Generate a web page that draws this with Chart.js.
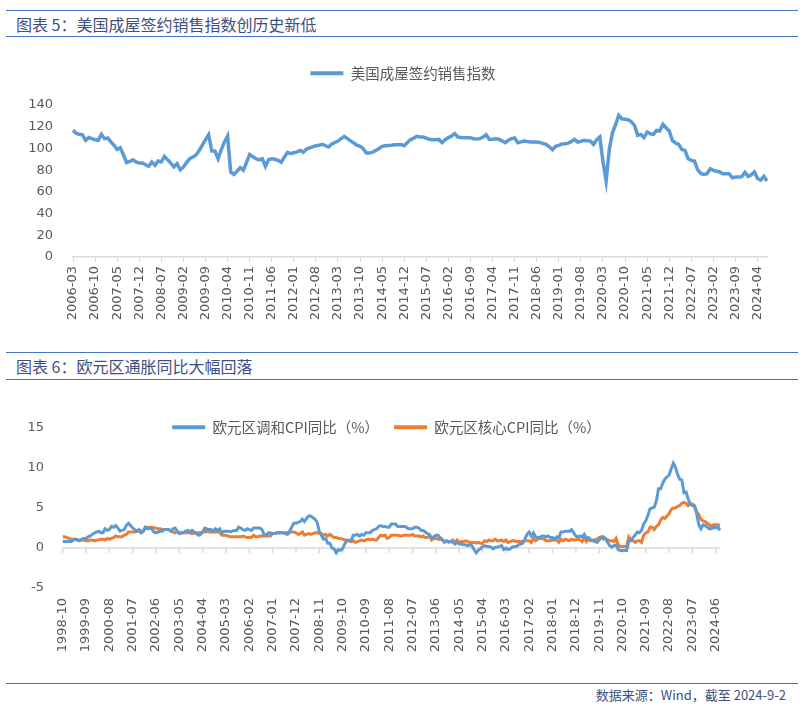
<!DOCTYPE html>
<html>
<head>
<meta charset="utf-8">
<script src="https://cdn.jsdelivr.net/npm/chart.js@4.4.1/dist/chart.umd.min.js"></script>
<style>
  body { margin: 0; background: #fff; }
  #page { position: relative; width: 806px; height: 712px; overflow: hidden; font-family: "Noto Sans CJK SC", sans-serif; }
  .rule { position: absolute; left: 6px; width: 792px; border-top: 1.5px solid #4472c4; }
  .title { position: absolute; left: 16px; font-size: 16px; line-height: 20px; color: #3f4f7f; white-space: nowrap; }
  .note { position: absolute; right: 20px; font-size: 13px; line-height: 16px; color: #3f4f7f; white-space: nowrap; }
  canvas { position: absolute; left: 0; }
</style>
</head>
<body>
<div id="page">
  <div class="rule" style="top:10px"></div>
  <div class="title" style="top:14px">图表 5：美国成屋签约销售指数创历史新低</div>
  <div class="rule" style="top:36px"></div>
  <canvas id="pending" width="806" height="300" style="top:40px"></canvas>

  <div class="rule" style="top:352px"></div>
  <div class="title" style="top:356px">图表 6：欧元区通胀同比大幅回落</div>
  <div class="rule" style="top:379px"></div>
  <canvas id="euro" width="806" height="295" style="top:385px"></canvas>

  <div class="rule" style="top:683px"></div>
  <div class="note" style="top:687px">数据来源：Wind，截至 2024-9-2</div>
</div>
<script>
// month labels like 2006-03
function monthLabels(year, month, count) {
  const out = [];
  for (let i = 0; i < count; i++) {
    const y = year + Math.floor((month - 1 + i) / 12);
    const m = ((month - 1 + i) % 12) + 1;
    out.push(y + "-" + String(m).padStart(2, "0"));
  }
  return out;
}

const pendingName = "美国成屋签约销售指数";
const pendingMonths = monthLabels(2006, 3, 221);
const pendingIndex = [
  116.6, 114, 113, 112.5, 107.5, 110, 109, 108, 107.5, 113,
  109, 109.6, 106, 103, 99, 100.7, 94, 87, 88, 89.6, 87.5, 86.6,
  86.6, 85, 83.5, 87.5, 84.4, 88.4, 87.5, 92.7, 89.5, 86.5, 83, 86,
  80.4, 82.9, 87, 90.5, 92, 94, 98, 103, 108, 112.6, 97.6, 97.6,
  90.5, 99, 106, 111.4, 78.3, 76.1, 79, 82.3, 80, 87, 94.5, 92.5,
  90.5, 89.5, 90.5, 83.5, 89.6, 90.5, 90, 89, 87.2, 92, 96.4, 95.2,
  96, 96.8, 98.2, 96.4, 99.4, 100.5, 101.5, 102.5, 103, 103.7, 102.5, 101.3,
  104, 105.5, 106.8, 109, 111.1, 109, 107, 105, 103, 101.9, 99.8, 95.8,
  95.8, 96.5, 98.2, 100, 101.9, 102.5, 102.8, 103, 103.4, 103.5, 103.7, 102.5,
  105.5, 108, 109.5, 111.2, 110.5, 110.5, 109.5, 108.5, 108, 108, 108.3, 105.3,
  108, 110, 111.5, 113.6, 110.5, 110, 109.9, 109.9, 109.9, 109, 108.7, 109,
  110.5, 112.6, 108.3, 108.5, 109, 108.5, 107, 105.3, 107.5, 109, 109.6, 105.3,
  106, 106.8, 106.3, 105.9, 105.9, 105.9, 105.5, 104.5, 103.7, 101.5, 98.8, 102,
  102.8, 104, 104.3, 104.9, 106.5, 108.3, 105.9, 106.5, 107.4, 107, 106.8, 103.7,
  108, 110.5, 88, 70, 99, 114.2, 122, 130.4, 127.3, 126.8, 126.4, 124.5,
  121.2, 112, 112.9, 109.9, 115.1, 113.5, 112.9, 116.6, 116, 122.1, 119, 116,
  107.4, 105, 103.7, 99, 98.2, 90.5, 89, 88.4, 80.4, 77, 76.1, 76.7,
  81.3, 79.8, 79, 78.3, 76.7, 76.7, 76.7, 73, 73.6, 73.6, 74, 78,
  74.3, 75.6, 78.3, 72.3, 70.8, 74.3, 70
];

const hicpName = "欧元区调和CPI同比（%）";
const coreName = "欧元区核心CPI同比（%）";
const euroMonths = monthLabels(1998, 10, 311);
const hicp = [
  0.8, 0.8, 0.8,
  0.8, 0.8, 1.0, 1.1, 1.0, 0.9, 1.1, 1.2, 1.2, 1.4, 1.5, 1.7,
  1.9, 2.0, 2.1, 1.9, 1.9, 2.4, 2.2, 2.3, 2.7, 2.6, 2.8, 2.5,
  2.1, 2.2, 2.3, 2.8, 3.1, 2.8, 2.5, 2.3, 2.1, 2.3, 1.9, 2.1,
  2.6, 2.4, 2.5, 2.4, 2.0, 1.9, 2.0, 2.1, 2.1, 2.3, 2.3, 2.3,
  2.1, 2.4, 2.5, 2.1, 1.8, 1.9, 1.9, 2.1, 2.2, 2.0, 2.2, 2.0,
  1.9, 1.6, 1.7, 2.0, 2.5, 2.4, 2.3, 2.3, 2.1, 2.4, 2.2, 2.4,
  1.9, 2.1, 2.1, 2.1, 2.0, 2.1, 2.2, 2.2, 2.6, 2.5, 2.3, 2.2,
  2.4, 2.3, 2.2, 2.5, 2.5, 2.5, 2.5, 2.3, 1.7, 1.6, 1.9, 1.9,
  1.8, 1.8, 1.9, 1.9, 1.9, 1.9, 1.8, 1.7, 2.1, 2.6, 3.1, 3.1,
  3.2, 3.3, 3.6, 3.3, 3.7, 4.0, 4.0, 3.8, 3.6, 3.2, 2.1, 1.6,
  1.1, 1.2, 0.6, 0.6, 0.0, -0.1, -0.6, -0.2, -0.3, -0.1, 0.5, 0.9,
  1.0, 0.9, 1.6, 1.6, 1.7, 1.5, 1.7, 1.6, 1.9, 1.9, 1.9, 2.2,
  2.3, 2.4, 2.7, 2.8, 2.7, 2.7, 2.6, 2.6, 3.0, 3.0, 3.0, 2.7,
  2.7, 2.7, 2.7, 2.6, 2.4, 2.4, 2.4, 2.6, 2.6, 2.5, 2.2, 2.2,
  2.0, 1.8, 1.7, 1.2, 1.4, 1.6, 1.6, 1.3, 1.1, 0.7, 0.9, 0.8,
  0.8, 0.7, 0.5, 0.7, 0.5, 0.5, 0.4, 0.4, 0.3, 0.4, 0.3, -0.2,
  -0.6, -0.3, -0.1, 0.2, 0.3, 0.2, 0.2, 0.1, -0.1, 0.1, 0.1, 0.2,
  0.3, -0.2, 0.0, -0.2, -0.1, 0.1, 0.2, 0.2, 0.4, 0.5, 0.6, 1.1,
  1.7, 2.0, 1.5, 1.9, 1.4, 1.3, 1.3, 1.5, 1.5, 1.4, 1.5, 1.3,
  1.3, 1.1, 1.4, 1.3, 2.0, 2.0, 2.1, 2.1, 2.1, 2.3, 1.9, 1.5,
  1.4, 1.5, 1.4, 1.7, 1.2, 1.3, 1.0, 1.0, 0.8, 0.7, 1.0, 1.3,
  1.4, 1.2, 0.7, 0.3, 0.1, 0.3, 0.4, -0.2, -0.3, -0.3, -0.3, -0.3,
  0.9, 0.9, 1.3, 1.6, 2.0, 1.9, 2.2, 3.0, 3.4, 4.1, 4.9, 5.0,
  5.1, 5.9, 7.4, 7.4, 8.1, 8.6, 8.9, 9.1, 9.9, 10.6, 10.1, 9.2,
  8.6, 8.5, 6.9, 7.0, 6.1, 5.5, 5.3, 5.2, 4.3, 2.9, 2.4, 2.9,
  2.8, 2.6, 2.4, 2.4, 2.6, 2.5, 2.6, 2.2
];
const core = [
  1.4, 1.4, 1.3,
  1.2, 1.1, 1.1, 1.1, 1.0, 1.0, 1.0, 1.0, 0.9, 0.9, 1.0, 1.0,
  0.9, 1.0, 1.0, 1.1, 1.1, 1.0, 1.2, 1.1, 1.2, 1.3, 1.5, 1.4,
  1.4, 1.4, 1.6, 1.7, 2.0, 2.0, 2.0, 2.0, 2.1, 2.1, 2.1, 2.1,
  2.6, 2.6, 2.5, 2.6, 2.5, 2.5, 2.4, 2.4, 2.3, 2.3, 2.3, 2.3,
  2.1, 2.0, 1.9, 2.1, 1.8, 1.9, 1.9, 1.9, 1.9, 1.9, 1.8, 1.9,
  1.8, 1.9, 1.9, 2.0, 2.0, 2.1, 2.0, 2.0, 2.0, 2.0, 2.0, 2.0,
  1.6, 1.6, 1.6, 1.5, 1.4, 1.4, 1.4, 1.4, 1.4, 1.4, 1.5, 1.4,
  1.3, 1.3, 1.3, 1.6, 1.4, 1.4, 1.5, 1.5, 1.5, 1.5, 1.5, 1.5,
  1.8, 1.8, 1.9, 1.9, 1.9, 1.9, 1.9, 1.9, 1.9, 2.0, 2.0, 1.9,
  1.7, 1.8, 2.0, 1.6, 1.7, 1.8, 1.7, 1.8, 1.9, 1.9, 1.8, 1.8,
  1.6, 1.7, 1.5, 1.7, 1.5, 1.3, 1.3, 1.2, 1.2, 1.1, 1.0, 1.0,
  0.9, 0.8, 0.9, 0.7, 0.8, 0.9, 1.0, 0.9, 1.0, 1.1, 1.0, 1.1,
  1.0, 1.0, 1.3, 1.6, 1.5, 1.6, 1.2, 1.3, 1.6, 1.6, 1.6, 1.6,
  1.5, 1.5, 1.6, 1.6, 1.6, 1.6, 1.7, 1.5, 1.5, 1.5, 1.4, 1.5,
  1.3, 1.3, 1.5, 1.0, 1.2, 1.2, 1.1, 1.1, 1.0, 0.8, 0.9, 0.7,
  0.8, 1.0, 0.7, 1.0, 0.7, 0.8, 0.8, 0.9, 0.8, 0.7, 0.7, 0.7,
  0.6, 0.7, 0.6, 0.6, 0.9, 0.8, 1.0, 0.9, 0.9, 1.1, 0.9, 0.9,
  1.0, 0.8, 1.0, 0.7, 0.8, 0.9, 0.9, 0.8, 0.8, 0.8, 0.8, 0.9,
  0.9, 0.9, 0.7, 1.2, 0.9, 1.1, 1.2, 1.2, 1.1, 0.9, 0.9, 0.9,
  1.0, 1.0, 1.0, 0.7, 1.1, 0.9, 1.1, 1.0, 0.9, 1.1, 1.0, 1.0,
  1.1, 1.0, 0.8, 1.3, 0.8, 1.1, 0.9, 0.9, 1.0, 1.1, 1.3, 1.4,
  1.1, 1.2, 1.0, 0.9, 0.9, 0.8, 1.2, 0.4, 0.2, 0.2, 0.2, 0.2,
  1.4, 1.1, 0.9, 0.7, 0.9, 0.9, 0.7, 1.6, 1.9, 2.0, 2.6, 2.6,
  2.3, 2.7, 2.9, 3.5, 3.8, 3.7, 4.0, 4.3, 4.8, 5.0, 5.0, 5.2,
  5.3, 5.6, 5.7, 5.6, 5.3, 5.5, 5.5, 5.3, 4.5, 4.2, 3.6, 3.4,
  3.3, 3.1, 2.9, 2.7, 2.9, 2.9, 2.9, 2.8
];

const blue = "#5b9bd5";
const orange = "#ed7d31";
const axisGrey = "#d9d9d9";
const textGrey = "#595959";
const tickFont = { family: "DejaVu Sans", size: 13 };
const legendFont = { family: "Noto Sans CJK SC", size: 14.5 };

// legend keeps a fixed slot height, and can be nudged sideways
const legendPlace = {
  id: "legendPlace",
  beforeInit(chart, args, opts) {
    const fit = chart.legend.fit;
    chart.legend.fit = function () {
      fit.call(this);
      this.height = opts.space;
    };
  },
  afterLayout(chart, args, opts) {
    const lg = chart.legend;
    lg.left += opts.dx;
    lg.right += opts.dx;
    lg.bottom = lg.top + 60;
  }
};

// excel style category axis crossing at zero
const zeroAxis = {
  id: "zeroAxis",
  beforeDatasetsDraw(chart, args, opts) {
    const { ctx, chartArea, scales } = chart;
    const y0 = scales.y.getPixelForValue(0);
    ctx.save();
    ctx.strokeStyle = axisGrey;
    ctx.lineWidth = 1.5;
    ctx.beginPath();
    ctx.moveTo(chartArea.left, y0);
    ctx.lineTo(chartArea.right, y0);
    for (let i = 0; i < chart.data.labels.length; i += opts.every) {
      const px = scales.x.getPixelForValue(i);
      ctx.moveTo(px, y0);
      ctx.lineTo(px, y0 + 5);
    }
    ctx.stroke();
    ctx.restore();
  }
};

const legendLabels = (chart) =>
  Chart.defaults.plugins.legend.labels.generateLabels(chart).map((l) => ({ ...l, lineWidth: 0 }));

new Chart(document.getElementById("pending"), {
  type: "line",
  plugins: [legendPlace],
  data: {
    labels: pendingMonths,
    datasets: [{
      label: pendingName,
      data: pendingIndex,
      borderColor: blue,
      backgroundColor: blue,
      borderWidth: 3.5,
      pointRadius: 0,
      tension: 0
    }]
  },
  options: {
    responsive: false,
    animation: false,
    layout: { padding: { top: 0, left: 20, right: 39, bottom: 0 } },
    plugins: {
      legendPlace: { space: 65, dx: 9.5 },
      tooltip: { enabled: false },
      legend: {
        position: "top",
        labels: {
          boxWidth: 33, boxHeight: 4, padding: 26,
          color: textGrey, font: legendFont,
          generateLabels: legendLabels
        }
      }
    },
    scales: {
      x: {
        afterFit: (s) => { s.height = 83; },
        border: { display: true, color: axisGrey, width: 1.5 },
        grid: {
          drawOnChartArea: false, drawTicks: true, tickLength: 5,
          color: (c) => (c.index % 7 === 0 ? axisGrey : "rgba(0,0,0,0)"),
          tickColor: (c) => (c.index % 7 === 0 ? axisGrey : "rgba(0,0,0,0)")
        },
        ticks: {
          autoSkip: false, minRotation: 90, maxRotation: 90, padding: 4,
          color: textGrey, font: tickFont,
          callback: function (v, i) { return i % 7 === 0 ? this.getLabelForValue(v) : ""; }
        }
      },
      y: {
        min: 0, max: 140,
        afterFit: (s) => { s.width = 53; },
        border: { display: false },
        grid: { display: false, drawTicks: false },
        ticks: { stepSize: 20, padding: 20, color: textGrey, font: tickFont }
      }
    }
  }
});

new Chart(document.getElementById("euro"), {
  type: "line",
  plugins: [legendPlace, zeroAxis],
  data: {
    labels: euroMonths,
    datasets: [{
      label: hicpName,
      data: hicp,
      borderColor: blue,
      backgroundColor: blue,
      borderWidth: 3,
      pointRadius: 0,
      tension: 0
    }, {
      label: coreName,
      data: core,
      borderColor: orange,
      backgroundColor: orange,
      borderWidth: 3,
      pointRadius: 0,
      tension: 0
    }]
  },
  options: {
    responsive: false,
    animation: false,
    layout: { padding: { top: 20, left: 20, right: 86, bottom: 0 } },
    plugins: {
      legendPlace: { space: 23, dx: 16.5 },
      zeroAxis: { every: 11 },
      tooltip: { enabled: false },
      legend: {
        position: "top",
        labels: {
          boxWidth: 33, boxHeight: 4, padding: 15,
          color: textGrey, font: legendFont,
          generateLabels: legendLabels
        }
      }
    },
    scales: {
      x: {
        afterFit: (s) => { s.height = 92; },
        border: { display: false },
        grid: { display: false, drawTicks: false },
        ticks: {
          autoSkip: false, minRotation: 90, maxRotation: 90, padding: 10,
          color: textGrey, font: tickFont,
          callback: function (v, i) { return i % 11 === 0 ? this.getLabelForValue(v) : ""; }
        }
      },
      y: {
        min: -5, max: 15,
        afterFit: (s) => { s.width = 42.7; },
        border: { display: false },
        grid: { display: false, drawTicks: false },
        ticks: { stepSize: 5, padding: 18.7, color: textGrey, font: tickFont }
      }
    }
  }
});
</script>
</body>
</html>
